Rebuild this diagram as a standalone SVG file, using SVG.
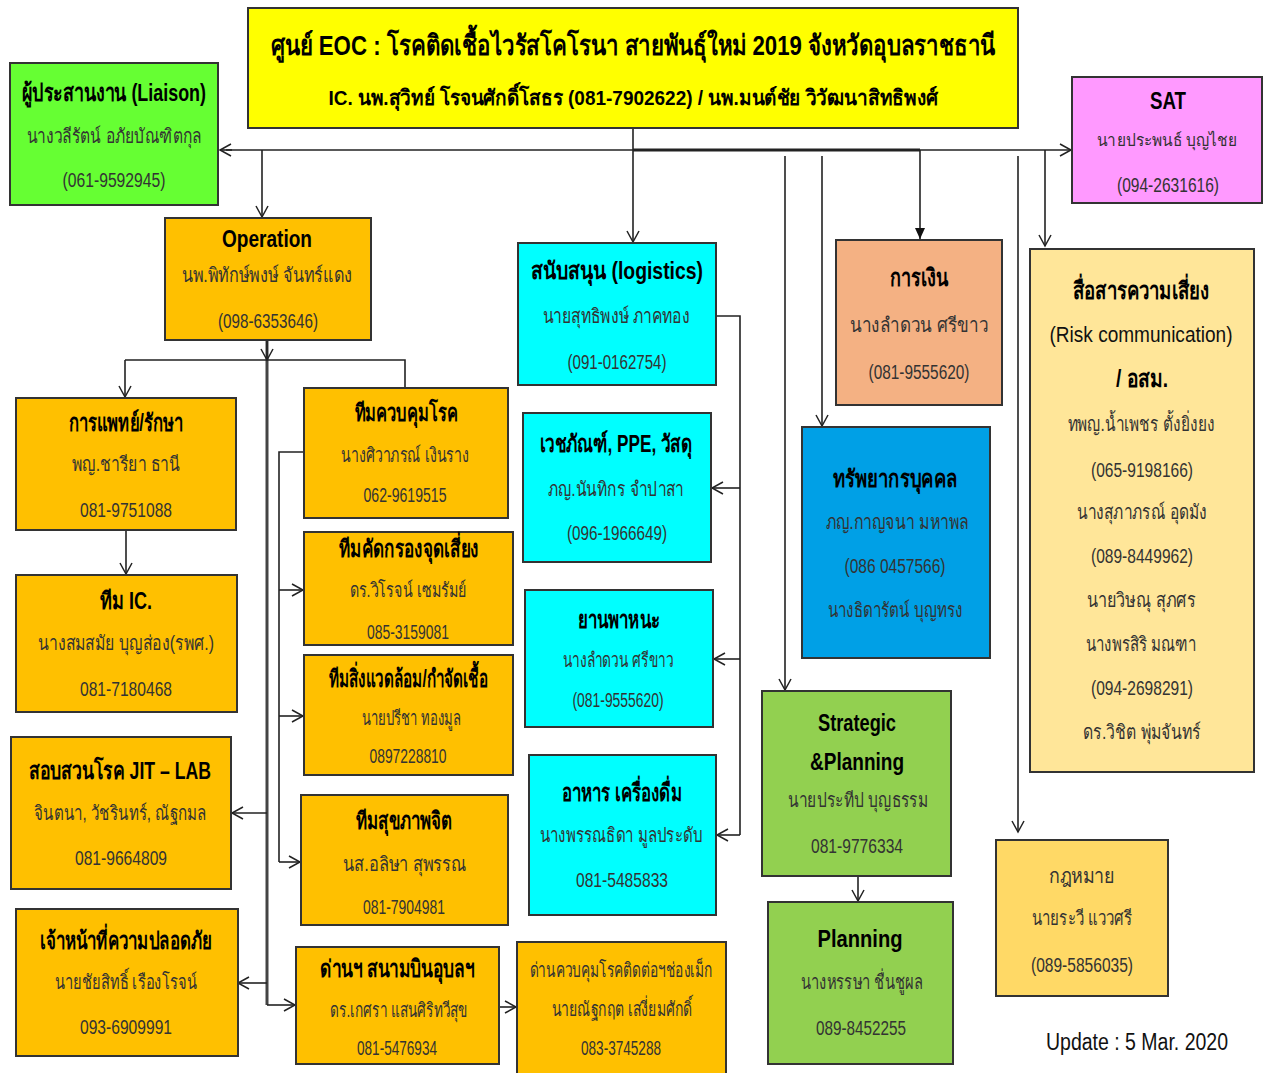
<svg xmlns="http://www.w3.org/2000/svg" width="1265" height="1073" viewBox="0 0 1265 1073">
<defs>
<marker id="ah" markerUnits="userSpaceOnUse" markerWidth="14" markerHeight="14" refX="12" refY="7" orient="auto">
<path d="M1,1 L12,7 L1,13" fill="none" stroke="#222" stroke-width="1.5"/>
</marker>
<marker id="af" markerUnits="userSpaceOnUse" markerWidth="14" markerHeight="14" refX="12" refY="7" orient="auto">
<path d="M1,2 L12,7 L1,12 Z" fill="#111"/>
</marker>
<style>
.box{stroke:#333;stroke-width:2}
text{font-family:"Liberation Sans","Noto Sans","DejaVu Sans",sans-serif;text-anchor:middle;dominant-baseline:central}
.h{font-weight:bold;font-size:24px;fill:#000}
.n{font-size:20px;fill:#333}
.c line,.c path{stroke:#222;stroke-width:1.6;fill:none}
.yel{fill:#FFFF00}.grn{fill:#66FF33}.pnk{fill:#FF99FF}.org{fill:#FFC000}.cyn{fill:#00FFFF}
.sal{fill:#F4B183}.lye{fill:#FFE699}.blu{fill:#00A0E6}.lgr{fill:#92D050}.gld{fill:#FFD966}
</style>
</defs>
<rect width="1265" height="1073" fill="#fff"/>

<g class="c" id="connectors">
<line x1="633" y1="128" x2="633" y2="242" marker-end="url(#ah)"/>
<line x1="226" y1="150" x2="1071" y2="150" marker-end="url(#ah)"/>
<path d="M232,150 L220,150" marker-end="url(#ah)"/>
<line x1="633" y1="150" x2="920" y2="150" style="stroke-width:3"/>
<line x1="262" y1="150" x2="262" y2="217" marker-end="url(#ah)"/>
<line x1="785" y1="156" x2="785" y2="690" marker-end="url(#ah)"/>
<line x1="822" y1="156" x2="822" y2="426" marker-end="url(#ah)"/>
<line x1="920" y1="150" x2="920" y2="239" marker-end="url(#af)"/>
<line x1="1018" y1="156" x2="1018" y2="832" marker-end="url(#ah)"/>
<line x1="1045" y1="150" x2="1045" y2="246" marker-end="url(#ah)"/>
<line x1="267" y1="330" x2="267" y2="1005" style="stroke-width:3;stroke:#444"/>
<line x1="267" y1="340" x2="267" y2="360" marker-end="url(#ah)"/>
<path d="M125,360 L405,360 L405,388"/>
<line x1="125" y1="360" x2="125" y2="397" marker-end="url(#ah)"/>
<line x1="267" y1="813" x2="232" y2="813" marker-end="url(#ah)"/>
<line x1="267" y1="983" x2="238" y2="983" marker-end="url(#ah)"/>
<path d="M267,1005 L295,1005" marker-end="url(#ah)"/>
<path d="M304,452 L279,452 L279,862"/>
<line x1="279" y1="590" x2="303" y2="590" marker-end="url(#ah)"/>
<line x1="279" y1="716" x2="303" y2="716" marker-end="url(#ah)"/>
<line x1="279" y1="862" x2="300" y2="862" marker-end="url(#ah)"/>
<line x1="126" y1="530" x2="126" y2="574" marker-end="url(#ah)"/>
<path d="M716,316 L740,316 L740,835"/>
<line x1="740" y1="488" x2="712" y2="488" marker-end="url(#ah)"/>
<line x1="740" y1="659" x2="714" y2="659" marker-end="url(#ah)"/>
<line x1="740" y1="835" x2="717" y2="835" marker-end="url(#ah)"/>
<line x1="858" y1="876" x2="858" y2="901" marker-end="url(#ah)"/>
<line x1="499" y1="1007" x2="516" y2="1007" marker-end="url(#ah)"/>
</g>

<g id="title">
<rect class="box yel" x="248" y="8" width="770" height="120"/>
<text x="633" y="45" style="font-weight:bold;font-size:28px" textLength="725" lengthAdjust="spacingAndGlyphs">ศูนย์ EOC : โรคติดเชื้อไวรัสโคโรนา สายพันธุ์ใหม่ 2019  จังหวัดอุบลราชธานี</text>
<text x="633" y="97" style="font-weight:bold;font-size:21px" textLength="609" lengthAdjust="spacingAndGlyphs">IC. นพ.สุวิทย์ โรจนศักดิ์โสธร (081-7902622)  / นพ.มนต์ชัย วิวัฒนาสิทธิพงศ์</text>
</g>

<g id="liaison">
<rect class="box grn" x="10" y="63" width="208" height="142"/>
<text class="h" x="114" y="92" textLength="184" lengthAdjust="spacingAndGlyphs">ผู้ประสานงาน (Liaison)</text>
<text class="n" x="114" y="136" textLength="175" lengthAdjust="spacingAndGlyphs">นางวลีรัตน์ อภัยบัณฑิตกุล</text>
<text class="n" x="114" y="180" textLength="103" lengthAdjust="spacingAndGlyphs">(061-9592945)</text>
</g>

<g id="sat">
<rect class="box pnk" x="1072" y="77" width="190" height="126"/>
<text class="h" x="1168" y="100" textLength="36" lengthAdjust="spacingAndGlyphs">SAT</text>
<text class="n" x="1167" y="140" style="font-size:17px" textLength="141" lengthAdjust="spacingAndGlyphs">นายประพนธ์ บุญไชย</text>
<text class="n" x="1168" y="185" textLength="102" lengthAdjust="spacingAndGlyphs">(094-2631616)</text>
</g>

<g id="operation">
<rect class="box org" x="165" y="218" width="206" height="122"/>
<text class="h" x="267" y="238" textLength="90" lengthAdjust="spacingAndGlyphs">Operation</text>
<text class="n" x="267" y="275" textLength="171" lengthAdjust="spacingAndGlyphs">นพ.พิทักษ์พงษ์  จันทร์แดง</text>
<text class="n" x="268" y="321" textLength="100" lengthAdjust="spacingAndGlyphs">(098-6353646)</text>
</g>

<g id="logistics">
<rect class="box cyn" x="518" y="243" width="198" height="142"/>
<text class="h" x="617" y="270" textLength="172" lengthAdjust="spacingAndGlyphs">สนับสนุน (logistics)</text>
<text class="n" x="616" y="316" textLength="147" lengthAdjust="spacingAndGlyphs">นายสุทธิพงษ์ ภาคทอง</text>
<text class="n" x="617" y="362" textLength="99" lengthAdjust="spacingAndGlyphs">(091-0162754)</text>
</g>

<g id="finance">
<rect class="box sal" x="836" y="240" width="166" height="165"/>
<text class="h" x="919" y="277" textLength="58" lengthAdjust="spacingAndGlyphs">การเงิน</text>
<text class="n" x="919" y="325" textLength="138" lengthAdjust="spacingAndGlyphs">นางลำดวน  ศรีขาว</text>
<text class="n" x="919" y="372" textLength="101" lengthAdjust="spacingAndGlyphs">(081-9555620)</text>
</g>

<g id="risk">
<rect class="box lye" x="1030" y="249" width="224" height="523"/>
<text class="h" x="1141" y="290" textLength="137" lengthAdjust="spacingAndGlyphs">สื่อสารความเสี่ยง</text>
<text x="1141" y="334" style="font-size:22px;fill:#111" textLength="183" lengthAdjust="spacingAndGlyphs">(Risk communication)</text>
<text class="h" x="1142" y="378" textLength="52" lengthAdjust="spacingAndGlyphs">/ อสม.</text>
<text class="n" x="1141" y="424" textLength="147" lengthAdjust="spacingAndGlyphs">ทพญ.น้ำเพชร ตั้งยิ่งยง</text>
<text class="n" x="1142" y="470" textLength="102" lengthAdjust="spacingAndGlyphs">(065-9198166)</text>
<text class="n" x="1142" y="512" textLength="130" lengthAdjust="spacingAndGlyphs">นางสุภาภรณ์ อุดมัง</text>
<text class="n" x="1142" y="556" textLength="102" lengthAdjust="spacingAndGlyphs">(089-8449962)</text>
<text class="n" x="1141" y="600" textLength="109" lengthAdjust="spacingAndGlyphs">นายวิษณุ  สุภศร</text>
<text class="n" x="1141" y="644" textLength="111" lengthAdjust="spacingAndGlyphs">นางพรสิริ มณฑา</text>
<text class="n" x="1142" y="688" textLength="102" lengthAdjust="spacingAndGlyphs">(094-2698291)</text>
<text class="n" x="1142" y="732" textLength="118" lengthAdjust="spacingAndGlyphs">ดร.วิชิต  พุ่มจันทร์</text>
</g>

<g id="medical">
<rect class="box org" x="16" y="398" width="220" height="132"/>
<text class="h" x="126" y="422" textLength="115" lengthAdjust="spacingAndGlyphs">การแพทย์/รักษา</text>
<text class="n" x="126" y="464" textLength="108" lengthAdjust="spacingAndGlyphs">พญ.ชารียา  ธานี</text>
<text class="n" x="126" y="510" textLength="92" lengthAdjust="spacingAndGlyphs">081-9751088</text>
</g>

<g id="team-ic">
<rect class="box org" x="16" y="575" width="221" height="137"/>
<text class="h" x="126" y="600" textLength="52" lengthAdjust="spacingAndGlyphs">ทีม IC.</text>
<text class="n" x="126" y="643" textLength="176" lengthAdjust="spacingAndGlyphs">นางสมสมัย บุญส่อง(รพศ.)</text>
<text class="n" x="126" y="689" textLength="92" lengthAdjust="spacingAndGlyphs">081-7180468</text>
</g>

<g id="jit-lab">
<rect class="box org" x="11" y="737" width="220" height="152"/>
<text class="h" x="120" y="770" textLength="182" lengthAdjust="spacingAndGlyphs">สอบสวนโรค JIT – LAB</text>
<text class="n" x="120" y="813" textLength="172" lengthAdjust="spacingAndGlyphs">จินตนา, วัชรินทร์, ณัฐกมล</text>
<text class="n" x="121" y="858" textLength="92" lengthAdjust="spacingAndGlyphs">081-9664809</text>
</g>

<g id="safety">
<rect class="box org" x="16" y="909" width="222" height="147"/>
<text class="h" x="126" y="940" textLength="172" lengthAdjust="spacingAndGlyphs">เจ้าหน้าที่ความปลอดภัย</text>
<text class="n" x="126" y="982" textLength="142" lengthAdjust="spacingAndGlyphs">นายชัยสิทธิ์ เรืองโรจน์</text>
<text class="n" x="126" y="1027" textLength="92" lengthAdjust="spacingAndGlyphs">093-6909991</text>
</g>

<g id="disease-control">
<rect class="box org" x="304" y="388" width="204" height="130"/>
<text class="h" x="406" y="412" textLength="103" lengthAdjust="spacingAndGlyphs">ทีมควบคุมโรค</text>
<text class="n" x="405" y="455" textLength="128" lengthAdjust="spacingAndGlyphs">นางศิวาภรณ์  เงินราง</text>
<text class="n" x="405" y="495" textLength="83" lengthAdjust="spacingAndGlyphs">062-9619515</text>
</g>

<g id="screening">
<rect class="box org" x="304" y="532" width="209" height="113"/>
<text class="h" x="409" y="548" textLength="140" lengthAdjust="spacingAndGlyphs">ทีมคัดกรองจุดเสี่ยง</text>
<text class="n" x="408" y="590" textLength="117" lengthAdjust="spacingAndGlyphs">ดร.วิโรจน์  เซมรัมย์</text>
<text class="n" x="408" y="632" textLength="82" lengthAdjust="spacingAndGlyphs">085-3159081</text>
</g>

<g id="environment">
<rect class="box org" x="304" y="655" width="209" height="120"/>
<text class="h" x="408" y="678" textLength="159" lengthAdjust="spacingAndGlyphs">ทีมสิ่งแวดล้อม/กำจัดเชื้อ</text>
<text class="n" x="411" y="718" textLength="99" lengthAdjust="spacingAndGlyphs">นายปรีชา ทองมูล</text>
<text class="n" x="408" y="756" textLength="77" lengthAdjust="spacingAndGlyphs">0897228810</text>
</g>

<g id="mental-health">
<rect class="box org" x="301" y="795" width="207" height="130"/>
<text class="h" x="404" y="820" textLength="97" lengthAdjust="spacingAndGlyphs">ทีมสุขภาพจิต</text>
<text class="n" x="405" y="864" textLength="124" lengthAdjust="spacingAndGlyphs">นส.อลิษา  สุพรรณ</text>
<text class="n" x="404" y="907" textLength="82" lengthAdjust="spacingAndGlyphs">081-7904981</text>
</g>

<g id="airport">
<rect class="box org" x="296" y="947" width="203" height="117"/>
<text class="h" x="397" y="968" textLength="154" lengthAdjust="spacingAndGlyphs">ด่านฯ สนามบินอุบลฯ</text>
<text class="n" x="399" y="1010" textLength="138" lengthAdjust="spacingAndGlyphs">ดร.เกศรา แสนศิริทวีสุข</text>
<text class="n" x="397" y="1048" textLength="80" lengthAdjust="spacingAndGlyphs">081-5476934</text>
</g>

<g id="chong-mek">
<rect class="box org" x="517" y="942" width="209" height="134"/>
<text class="n" x="621" y="970" textLength="183" lengthAdjust="spacingAndGlyphs">ด่านควบคุมโรคติดต่อฯช่องเม็ก</text>
<text class="n" x="622" y="1009" textLength="141" lengthAdjust="spacingAndGlyphs">นายณัฐกฤต เสงี่ยมศักดิ์</text>
<text class="n" x="621" y="1048" textLength="80" lengthAdjust="spacingAndGlyphs">083-3745288</text>
</g>

<g id="supplies">
<rect class="box cyn" x="523" y="413" width="188" height="149"/>
<text class="h" x="616" y="443" textLength="153" lengthAdjust="spacingAndGlyphs">เวชภัณฑ์, PPE, วัสดุ</text>
<text class="n" x="616" y="489" textLength="136" lengthAdjust="spacingAndGlyphs">ภญ.นันทิกร จำปาสา</text>
<text class="n" x="617" y="533" textLength="100" lengthAdjust="spacingAndGlyphs">(096-1966649)</text>
</g>

<g id="vehicles">
<rect class="box cyn" x="525" y="590" width="188" height="137"/>
<text class="h" x="619" y="619" textLength="82" lengthAdjust="spacingAndGlyphs">ยานพาหนะ</text>
<text class="n" x="618" y="660" textLength="111" lengthAdjust="spacingAndGlyphs">นางลำดวน  ศรีขาว</text>
<text class="n" x="618" y="700" textLength="91" lengthAdjust="spacingAndGlyphs">(081-9555620)</text>
</g>

<g id="food">
<rect class="box cyn" x="529" y="755" width="187" height="160"/>
<text class="h" x="622" y="792" textLength="120" lengthAdjust="spacingAndGlyphs">อาหาร เครื่องดื่ม</text>
<text class="n" x="621" y="835" textLength="163" lengthAdjust="spacingAndGlyphs">นางพรรณธิดา มูลประดับ</text>
<text class="n" x="622" y="880" textLength="92" lengthAdjust="spacingAndGlyphs">081-5485833</text>
</g>

<g id="hr">
<rect class="box blu" x="802" y="427" width="188" height="231"/>
<text class="h" x="895" y="478" textLength="125" lengthAdjust="spacingAndGlyphs">ทรัพยากรบุคคล</text>
<text class="n" x="897" y="522" textLength="143" lengthAdjust="spacingAndGlyphs">ภญ.กาญจนา มหาพล</text>
<text class="n" x="895" y="566" textLength="101" lengthAdjust="spacingAndGlyphs">(086 0457566)</text>
<text class="n" x="895" y="610" textLength="135" lengthAdjust="spacingAndGlyphs">นางธิดารัตน์ บุญทรง</text>
</g>

<g id="strategic">
<rect class="box lgr" x="762" y="691" width="189" height="185"/>
<text class="h" x="857" y="722" textLength="78" lengthAdjust="spacingAndGlyphs">Strategic</text>
<text class="h" x="857" y="761" textLength="94" lengthAdjust="spacingAndGlyphs">&amp;Planning</text>
<text class="n" x="858" y="800" textLength="140" lengthAdjust="spacingAndGlyphs">นายประทีป บุญธรรม</text>
<text class="n" x="857" y="846" textLength="92" lengthAdjust="spacingAndGlyphs">081-9776334</text>
</g>

<g id="planning">
<rect class="box lgr" x="768" y="902" width="185" height="162"/>
<text class="h" x="860" y="938" textLength="85" lengthAdjust="spacingAndGlyphs">Planning</text>
<text class="n" x="862" y="982" textLength="122" lengthAdjust="spacingAndGlyphs">นางหรรษา ชื่นชูผล</text>
<text class="n" x="861" y="1028" textLength="90" lengthAdjust="spacingAndGlyphs">089-8452255</text>
</g>

<g id="law">
<rect class="box gld" x="996" y="840" width="172" height="156"/>
<text class="n" x="1082" y="876" textLength="66" lengthAdjust="spacingAndGlyphs">กฎหมาย</text>
<text class="n" x="1082" y="918" textLength="101" lengthAdjust="spacingAndGlyphs">นายระวี แววศรี</text>
<text class="n" x="1082" y="965" textLength="102" lengthAdjust="spacingAndGlyphs">(089-5856035)</text>
</g>

<text x="1137" y="1042" style="font-size:23px;fill:#111" textLength="182" lengthAdjust="spacingAndGlyphs">Update : 5 Mar. 2020</text>
</svg>
